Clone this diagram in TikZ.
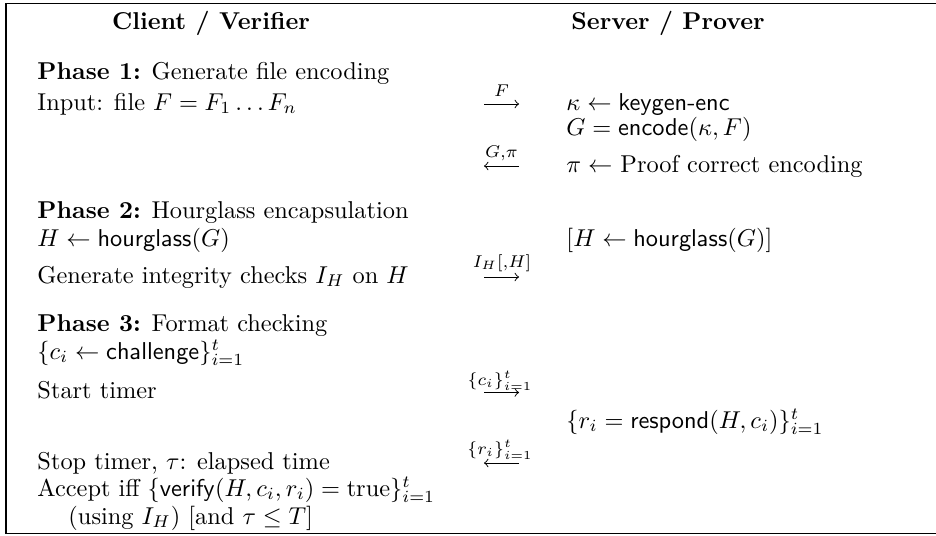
\documentclass[tikz,border=0pt]{standalone}
\usepackage{amsmath}
\begin{document}
\begin{tikzpicture}[x=0.4105pt,y=-0.4105pt,
  txt/.style={inner sep=0pt, anchor=base west},
  hdr/.style={inner sep=0pt, anchor=base, font=\bfseries},
  lbl/.style={inner sep=0pt, anchor=base},
  msg/.style={->, line width=0.4pt},
  frameline/.style={line width=0.5pt}]
\useasboundingbox (0,0) rectangle (936,536);
% frame (open on the right)
\draw[frameline] (936,3.5) -- (6,3.5) -- (6,533.5) -- (936,533.5);

% headers
\node[hdr] (hc) at (211,30) {Client / Verifier};
\node[hdr] (hs) at (668,30) {Server / Prover};

% Phase 1
\node[txt] (p1) at (37,79) {\textbf{Phase 1:} Generate file encoding};
\node[txt] (in) at (37,110) {Input: file $F = F_1 \ldots F_n$};
\node[txt] (kg) at (566,110) {$\kappa \leftarrow \textsf{keygen-enc}$};
\node[txt] (enc) at (566,135) {$G = \mathsf{encode}(\kappa, F)$};
\node[txt] (pf) at (566,172) {$\pi \leftarrow$ Proof correct encoding};

\coordinate (m1a) at (484,104);
\coordinate (m1b) at (519,104);
\draw[msg] (m1a) -- (m1b);
\node[lbl] (l1) at (501.5,96) {$\scriptstyle F$};

\coordinate (m2a) at (484,166);
\coordinate (m2b) at (519,166);
\draw[msg] (m2b) -- (m2a);
\node[lbl] (l2) at (501.5,157) {$\scriptstyle G,\pi$};

% Phase 2
\node[txt] (p2) at (37,218) {\textbf{Phase 2:} Hourglass encapsulation};
\node[txt] (hg) at (37,246) {$H \leftarrow \mathsf{hourglass}(G)$};
\node[txt] (hgs) at (566,246) {$[H \leftarrow \mathsf{hourglass}(G)]$};
\node[txt] (ic) at (37,283) {Generate integrity checks $I_H$ on $H$};

\coordinate (m3a) at (484,277);
\coordinate (m3b) at (519,277);
\draw[msg] (m3a) -- (m3b);
\node[lbl] (l3) at (502,267.5) {$\scriptstyle I_H[,H]$};

% Phase 3
\node[txt] (p3) at (37,331) {\textbf{Phase 3:} Format checking};
\node[txt] (ch) at (37,359) {$\{c_i \leftarrow \mathsf{challenge}\}_{i=1}^t$};
\node[txt] (st) at (37,398) {Start timer};
\node[txt] (rs) at (566,428) {$\{r_i = \mathsf{respond}(H, c_i)\}_{i=1}^t$};
\node[txt] (sp) at (37,469) {Stop timer, $\tau$: elapsed time};
\node[txt] (ac) at (37,496) {Accept iff $\{\mathsf{verify}(H, c_i, r_i) = \mathrm{true}\}_{i=1}^t$};
\node[txt] (us) at (68,524) {(using $I_H$) [and $\tau \leq T$]};

\coordinate (m4a) at (484,392.5);
\coordinate (m4b) at (519,392.5);
\draw[msg] (m4a) -- (m4b);
\node[lbl] (l4) at (500,385.5) {$\scriptstyle \{c_i\}_{i=1}^t$};

\coordinate (m5a) at (484,463);
\coordinate (m5b) at (519,463);
\draw[msg] (m5b) -- (m5a);
\node[lbl] (l5) at (500,454.5) {$\scriptstyle \{r_i\}_{i=1}^t$};
\end{tikzpicture}
\end{document}
